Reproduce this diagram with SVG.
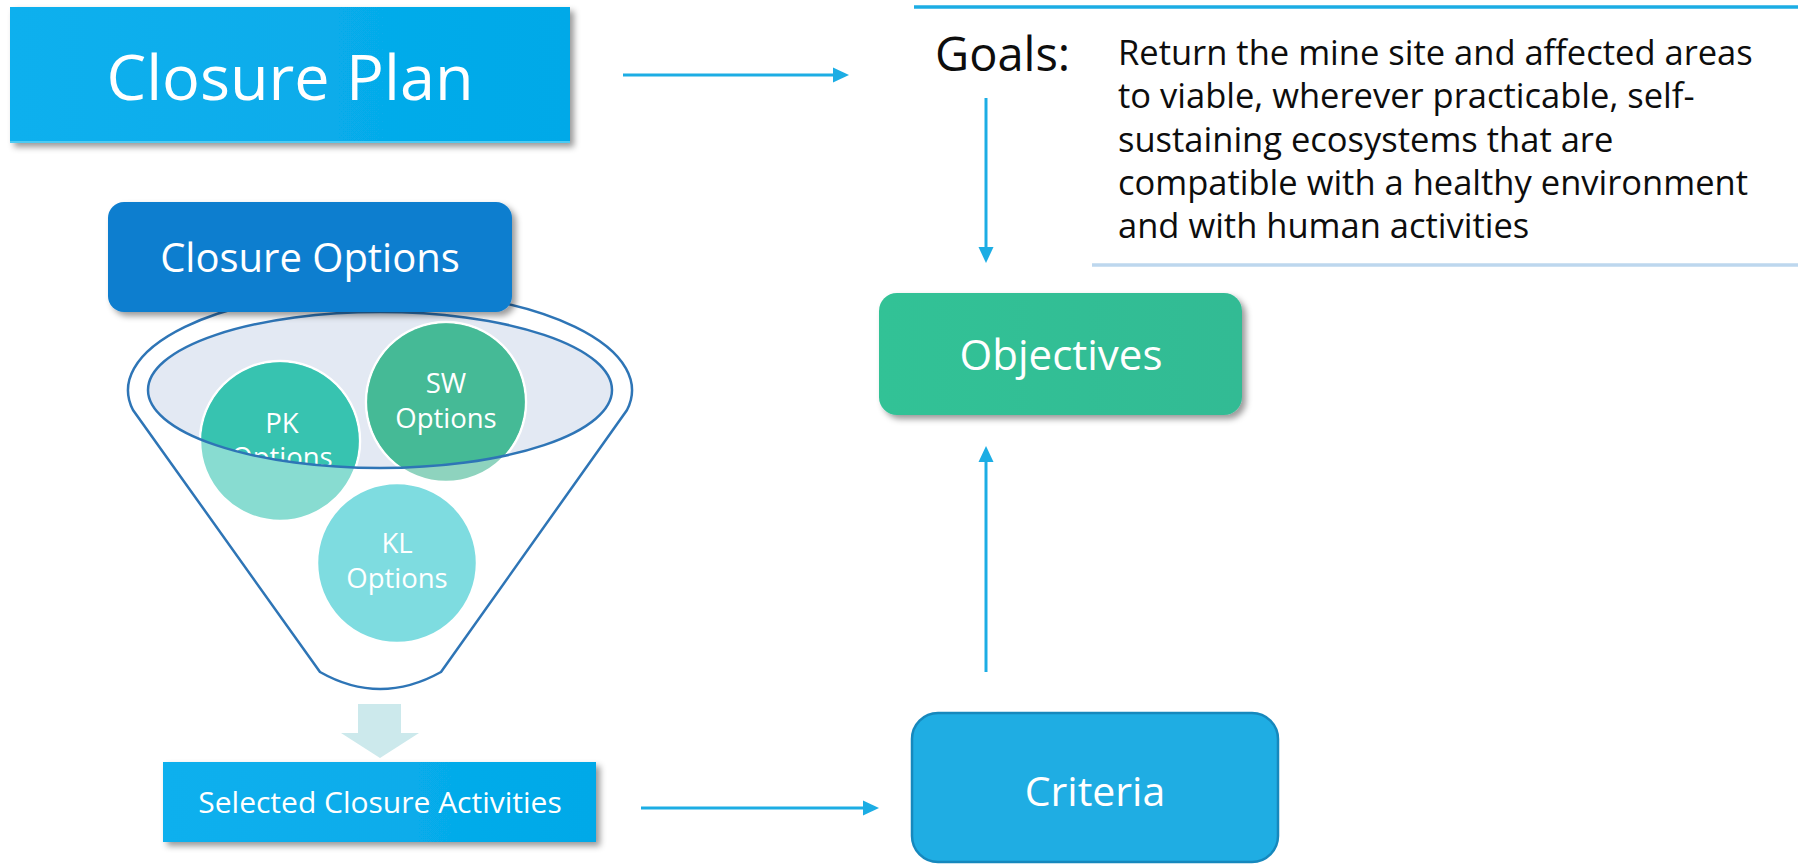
<svg xmlns="http://www.w3.org/2000/svg" width="1798" height="865" viewBox="0 0 1798 865">
<style>
text { font-family: "Open Sans", "Liberation Sans", sans-serif; }
.wt { fill: #ffffff; text-anchor: middle; }
.conn { stroke: #1CADE4; stroke-width: 3; fill: none; marker-end: url(#ah); }
.circ { stroke: #ffffff; stroke-width: 2.5; }
.ctext { fill: #ffffff; text-anchor: middle; font-size: 27.5px; }
.para { fill: #0d0d0d; font-size: 34.5px; }
</style>
<defs>
<filter id="sh" x="-10%" y="-20%" width="125%" height="150%">
<feDropShadow dx="4" dy="4" stdDeviation="3" flood-color="#000000" flood-opacity="0.4"/>
</filter>
<linearGradient id="gBlue" x1="0" y1="0" x2="1" y2="0">
<stop offset="0" stop-color="#0EB0EE"/>
<stop offset="1" stop-color="#02A9E8"/>
</linearGradient>
<linearGradient id="gGreen" x1="0" y1="0" x2="1" y2="0">
<stop offset="0" stop-color="#30C296"/>
<stop offset="1" stop-color="#33BB94"/>
</linearGradient>
<marker id="ah" markerUnits="userSpaceOnUse" markerWidth="16" markerHeight="16" viewBox="0 0 16 16" refX="1" refY="8" orient="auto">
<path d="M0,0.5 L16,8 L0,15.5 z" fill="#1CADE4"/>
</marker>
<clipPath id="innerClip">
<ellipse cx="380" cy="390" rx="232" ry="78"/>
</clipPath>
</defs>

<g id="goals-frame">
<line x1="914" y1="7" x2="1798" y2="7" stroke="#1CADE4" stroke-width="3.5"/>
<line x1="1092" y1="265" x2="1798" y2="265" stroke="#BDD7EE" stroke-width="3.5"/>
</g>

<g id="closure-plan">
<rect x="10" y="7" width="560" height="136" fill="url(#gBlue)" filter="url(#sh)"/>
<line x1="10" y1="142" x2="570" y2="142" stroke="#4DCBF3" stroke-width="2"/>
<text class="wt" x="290" y="100" font-size="63">Closure Plan</text>
</g>

<g id="funnel">
<path d="M133,410 A252,100 0 1 1 627,410 L441,672 Q380,706 320,672 Z" fill="#ffffff" stroke="#2E75B6" stroke-width="2.5"/>
<ellipse cx="380" cy="390" rx="232" ry="78" fill="#E3E9F3"/>
</g>

<g id="pk-options">
<circle class="circ" cx="280" cy="441" r="80" fill="#88DCD1"/>
<circle cx="280" cy="441" r="78.8" fill="#37C3B0" clip-path="url(#innerClip)"/>
<g clip-path="url(#innerClip)">
<text class="ctext" x="282" y="433">PK</text>
<text class="ctext" x="282" y="467">Options</text>
</g>
</g>

<g id="sw-options">
<circle class="circ" cx="446" cy="402" r="80" fill="#8ED3BE"/>
<circle cx="446" cy="402" r="78.8" fill="#45BA96" clip-path="url(#innerClip)"/>
<text class="ctext" x="446" y="393">SW</text>
<text class="ctext" x="446" y="428">Options</text>
</g>

<g id="kl-options">
<circle class="circ" cx="397" cy="563" r="80" fill="#7EDCE0"/>
<text class="ctext" x="397" y="553">KL</text>
<text class="ctext" x="397" y="588">Options</text>
</g>

<g id="funnel-rim">
<ellipse cx="380" cy="390" rx="232" ry="78" fill="none" stroke="#2E75B6" stroke-width="2.5"/>
</g>

<g id="closure-options">
<rect x="108" y="202" width="404" height="110" rx="16" fill="#117ECF" filter="url(#sh)"/>
<text class="wt" x="310" y="272" font-size="40">Closure Options</text>
</g>

<g id="funnel-output-arrow">
<polygon points="358,704 401,704 401,733 419,733 380,758 341,733 358,733" fill="#CCE9EC"/>
</g>

<g id="selected-activities">
<rect x="163" y="762" width="433" height="80" fill="url(#gBlue)" filter="url(#sh)"/>
<text class="wt" x="380" y="813" font-size="30">Selected Closure Activities</text>
</g>

<g id="goals">
<text x="935" y="71" font-size="47" fill="#0d0d0d">Goals:</text>
<text class="para" x="1118" y="65">Return the mine site and affected areas</text>
<text class="para" x="1118" y="108">to viable, wherever practicable, self-</text>
<text class="para" x="1118" y="152">sustaining ecosystems that are</text>
<text class="para" x="1118" y="195">compatible with a healthy environment</text>
<text class="para" x="1118" y="238">and with human activities</text>
</g>

<g id="objectives">
<rect x="879" y="293" width="363" height="122" rx="18" fill="url(#gGreen)" filter="url(#sh)"/>
<text class="wt" x="1061" y="370" font-size="42">Objectives</text>
</g>

<g id="criteria">
<rect x="912" y="713" width="366" height="149" rx="26" fill="#1FADE3" stroke="#1688BD" stroke-width="2.5"/>
<text class="wt" x="1095" y="806" font-size="41">Criteria</text>
</g>

<g id="connectors">
<line class="conn" x1="623" y1="75" x2="834" y2="75"/>
<line class="conn" x1="986" y1="98" x2="986" y2="248"/>
<line class="conn" x1="986" y1="672" x2="986" y2="461"/>
<line class="conn" x1="641" y1="808" x2="864" y2="808"/>
</g>
</svg>
